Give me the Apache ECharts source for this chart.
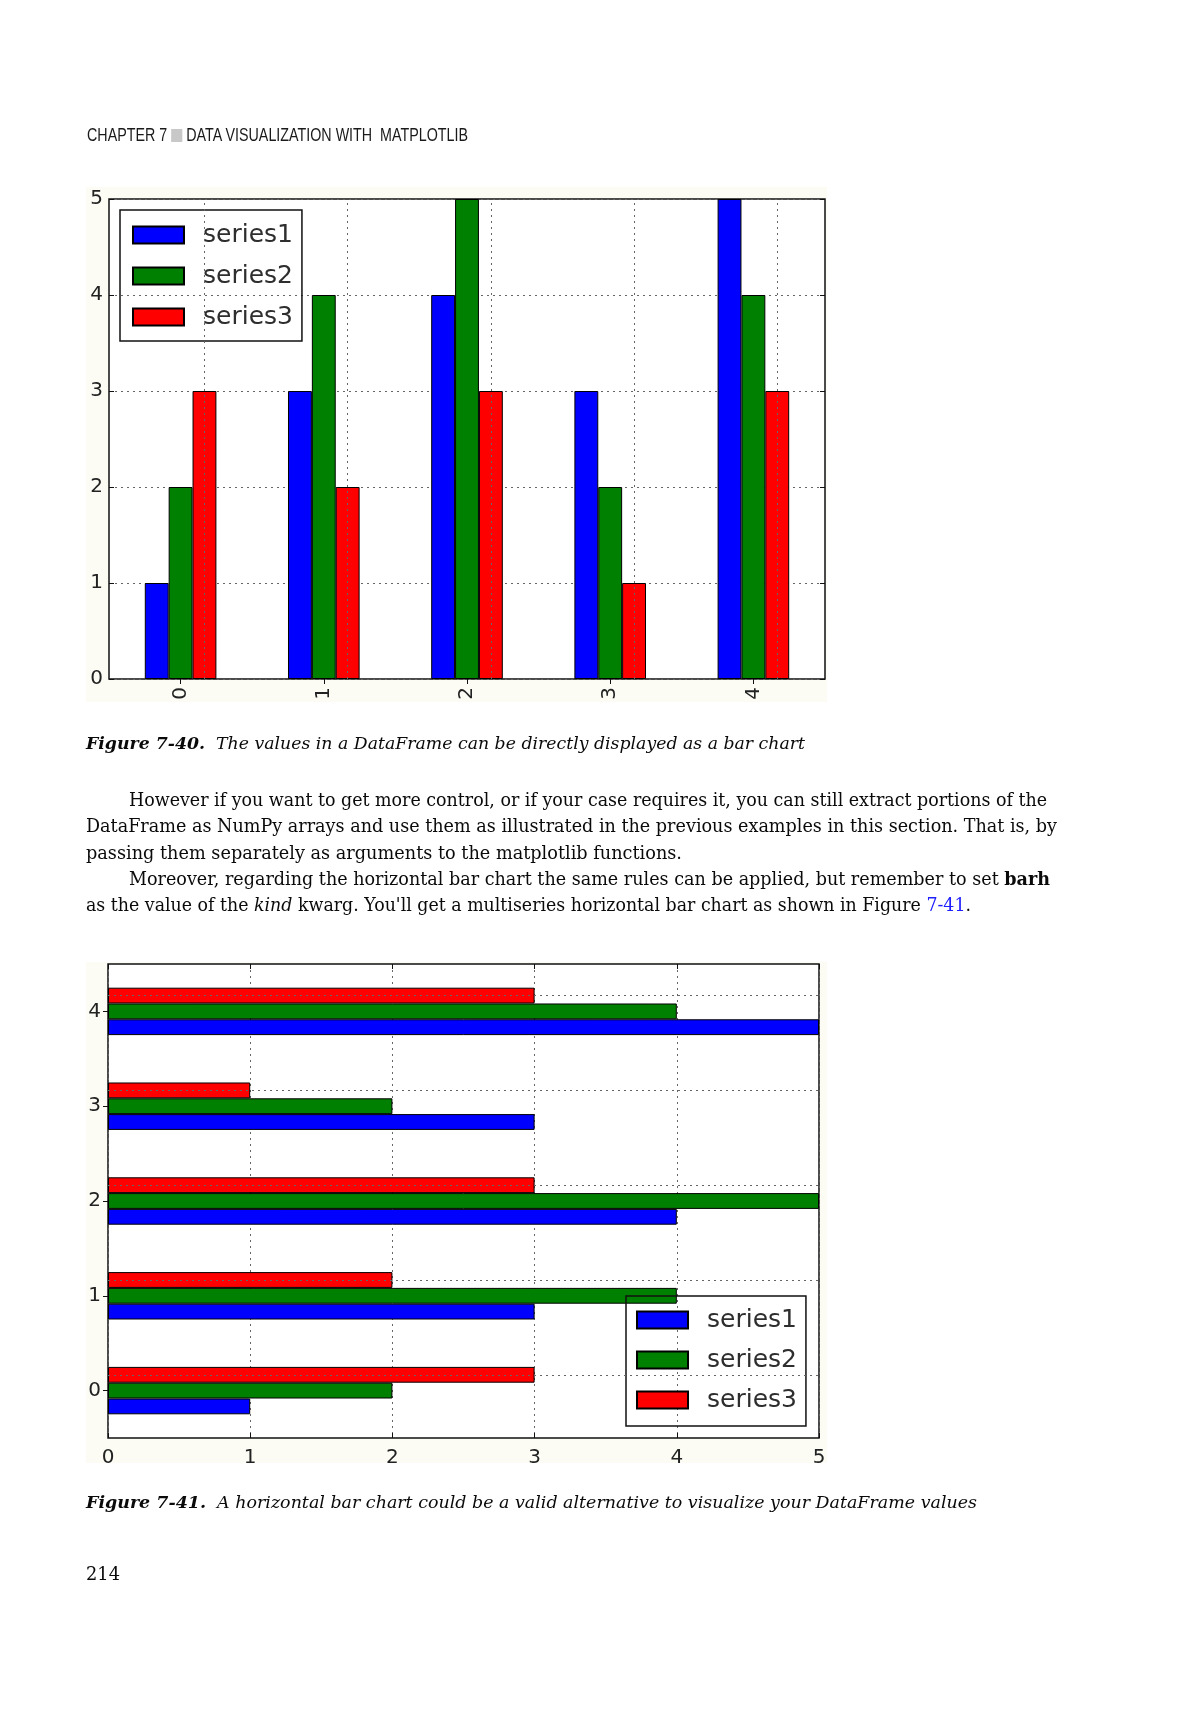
<!DOCTYPE html>
<html>
<head>
<meta charset="utf-8">
<script src="https://cdn.jsdelivr.net/npm/echarts@6/dist/echarts.min.js"></script>
<style>
  html, body { margin:0; padding:0; background:#fff; }
  body { position:relative; width:1200px; height:1714px; overflow:hidden; }
  .figbg { position:absolute; background:#fcfcf5; z-index:0; }
  #chart { position:absolute; left:0; top:0; width:1200px; height:1714px; z-index:1; }
  .t { position:absolute; white-space:nowrap; color:#0a0a0a; z-index:2; display:inline-block; transform-origin:0 50%; }
  .body { font-family:"DejaVu Serif", serif; font-size:18px; line-height:26px; }
  .cap { font-family:"DejaVu Serif", serif; font-style:italic; font-size:17px; line-height:26px; }
  .hdr { font-family:"Liberation Sans", sans-serif; font-size:18px; line-height:20px; color:#1a1a1a; }
  .sq { display:inline-block; width:14px; height:13px; background:#c8c8c8; vertical-align:-1px; }
  .lnk { color:#2020ff; }
</style>
</head>
<body>
<div class="figbg" style="left:86px;top:187px;width:741px;height:515px;"></div>
<div class="figbg" style="left:86px;top:962px;width:741px;height:501px;"></div>
<div id="chart"></div>

<div class="t hdr fit" data-w="381" style="left:87px;top:125px;">CHAPTER 7 <span class="sq"></span> DATA VISUALIZATION WITH&nbsp; MATPLOTLIB</div>

<div class="t cap fit" data-w="719" style="left:86px;top:730px;"><b>Figure 7-40.</b>&nbsp; The values in a DataFrame can be directly displayed as a bar chart</div>

<div class="t body fit" data-w="918" style="left:129px;top:787px;">However if you want to get more control, or if your case requires it, you can still extract portions of the</div>
<div class="t body fit" data-w="971" style="left:86px;top:813px;">DataFrame as NumPy arrays and use them as illustrated in the previous examples in this section. That is, by</div>
<div class="t body fit" data-w="596" style="left:86px;top:840px;">passing them separately as arguments to the matplotlib functions.</div>
<div class="t body fit" data-w="921" style="left:129px;top:866px;">Moreover, regarding the horizontal bar chart the same rules can be applied, but remember to set <b>barh</b></div>
<div class="t body fit" data-w="885" style="left:86px;top:892px;">as the value of the <i>kind</i> kwarg. You'll get a multiseries horizontal bar chart as shown in Figure <span class="lnk">7-41</span>.</div>

<div class="t cap fit" data-w="891" style="left:86px;top:1489px;"><b>Figure 7-41.</b>&nbsp; A horizontal bar chart could be a valid alternative to visualize your DataFrame values</div>

<div class="t body fit" data-w="34" style="left:86px;top:1561px;">214</div>

<script>
// ---- data ----
const categories = ['0', '1', '2', '3', '4'];
const seriesNames = ['series1', 'series2', 'series3'];
const series1 = [1, 3, 4, 3, 5];
const series2 = [2, 4, 5, 2, 4];
const series3 = [3, 2, 3, 1, 3];
const valueMin = 0;
const valueMax = 5;
const valueStep = 1;

// ---- fit page text lines to their measured widths ----
document.querySelectorAll('.fit').forEach(el => {
  const target = parseFloat(el.getAttribute('data-w'));
  const natural = el.getBoundingClientRect().width;
  if (natural > 0) el.style.transform = 'scaleX(' + (target / natural) + ')';
});

// ---- styling ----
const colors = ['#0000ff', '#008000', '#ff0000'];
const seriesValues = [series1, series2, series3];
const gridLine = { type: [2, 4], color: '#666', width: 1 };
const tickStyle = { show: true, inside: true, length: 5, lineStyle: { color: '#111', width: 1 } };
const labelFont = { fontSize: 20, color: '#222', fontFamily: 'DejaVu Sans' };

const chart = echarts.init(document.getElementById('chart'), null, { renderer: 'canvas' });

function barSeries(i, xIdx, yIdx, markKey, withMark) {
  const s = {
    type: 'bar',
    name: seriesNames[i],
    xAxisIndex: xIdx,
    yAxisIndex: yIdx,
    data: seriesValues[i],
    barWidth: '16.667%',
    barGap: '0%',
    itemStyle: { color: colors[i], borderColor: '#000', borderWidth: 1 },
    emphasis: { disabled: true },
    silent: true
  };
  if (withMark) {
    s.markLine = {
      silent: true,
      symbol: ['none', 'none'],
      label: { show: false },
      lineStyle: gridLine,
      emphasis: { disabled: true },
      data: categories.map(c => ({ [markKey]: c }))
    };
  }
  return s;
}

function legendFor(left, top, padding, gap) {
  return {
    orient: 'vertical',
    left: left, top: top,
    data: seriesNames,
    icon: 'rect',
    itemWidth: 51, itemHeight: 17, itemGap: gap,
    padding: padding,
    borderColor: '#111', borderWidth: 1.5, borderRadius: 0,
    backgroundColor: 'transparent',
    selectedMode: false,
    textStyle: { fontSize: 25, color: '#2e2e2e', fontFamily: 'DejaVu Sans', lineHeight: 28, padding: [0, 0, 0, 14] }
  };
}

const option = {
  animation: false,
  backgroundColor: 'transparent',
  grid: [
    { left: 109, top: 199, width: 716, height: 480, show: true, borderColor: '#111', borderWidth: 1.5, backgroundColor: '#fff' },
    { left: 108, top: 964, width: 711, height: 474, show: true, borderColor: '#111', borderWidth: 1.5, backgroundColor: '#fff' }
  ],
  legend: [
    legendFor(120, 210, [11, 9, 10, 12], 13),
    legendFor(626, 1296, [10, 9, 12, 10], 12)
  ],
  xAxis: [
    { gridIndex: 0, type: 'category', data: categories, position: 'bottom',
      axisLine: { show: false }, axisTick: Object.assign({ alignWithLabel: true }, tickStyle),
      axisLabel: Object.assign({ rotate: 90, margin: 8 }, labelFont), splitLine: { show: false } },
    { gridIndex: 0, type: 'category', data: categories, position: 'top',
      axisLine: { show: false }, axisTick: Object.assign({ alignWithLabel: true }, tickStyle),
      axisLabel: { show: false }, splitLine: { show: false } },
    { gridIndex: 1, type: 'value', min: valueMin, max: valueMax, interval: valueStep, position: 'bottom',
      axisLine: { show: false }, axisTick: tickStyle,
      axisLabel: Object.assign({ margin: 10 }, labelFont), splitLine: { show: true, lineStyle: gridLine } },
    { gridIndex: 1, type: 'value', min: valueMin, max: valueMax, interval: valueStep, position: 'top',
      axisLine: { show: false }, axisTick: tickStyle, axisLabel: { show: false }, splitLine: { show: false } }
  ],
  yAxis: [
    { gridIndex: 0, type: 'value', min: valueMin, max: valueMax, interval: valueStep, position: 'left',
      axisLine: { show: false }, axisTick: tickStyle,
      axisLabel: Object.assign({ margin: 6 }, labelFont), splitLine: { show: true, lineStyle: gridLine } },
    { gridIndex: 0, type: 'value', min: valueMin, max: valueMax, interval: valueStep, position: 'right',
      axisLine: { show: false }, axisTick: tickStyle, axisLabel: { show: false }, splitLine: { show: false } },
    { gridIndex: 1, type: 'category', data: categories, position: 'left',
      axisLine: { show: false }, axisTick: Object.assign({ alignWithLabel: true }, tickStyle),
      axisLabel: Object.assign({ margin: 7 }, labelFont), splitLine: { show: false } },
    { gridIndex: 1, type: 'category', data: categories, position: 'right',
      axisLine: { show: false }, axisTick: Object.assign({ alignWithLabel: true }, tickStyle),
      axisLabel: { show: false }, splitLine: { show: false } }
  ],
  series: [
    // vertical bars: series1 left → series3 right
    barSeries(0, 0, 0, 'xAxis', false),
    barSeries(1, 0, 0, 'xAxis', false),
    barSeries(2, 0, 0, 'xAxis', true),
    // horizontal bars: declared in reverse so series1 sits at the bottom of each group
    barSeries(2, 2, 2, 'yAxis', true),
    barSeries(1, 2, 2, 'yAxis', false),
    barSeries(0, 2, 2, 'yAxis', false)
  ]
};

chart.setOption(option);
</script>
</body>
</html>
